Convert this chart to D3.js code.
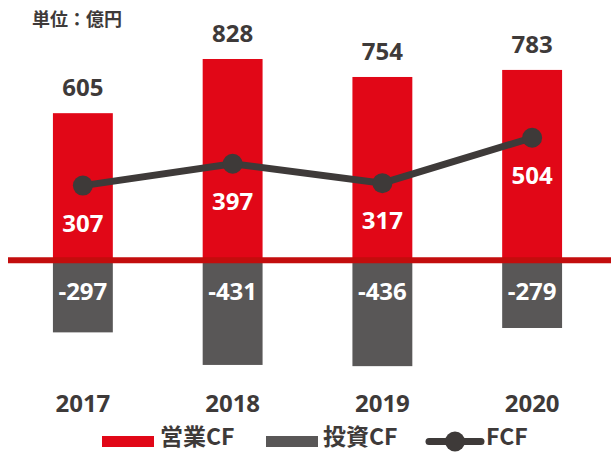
<!DOCTYPE html>
<html>
<head>
<meta charset="utf-8">
<script src="https://cdn.jsdelivr.net/npm/d3@7"></script>
<style>
  body { margin: 0; background: #fff; }
  svg text { font-family: "Open Sans", "Noto Sans", sans-serif; font-weight: 700; }
</style>
</head>
<body>
<div id="viz"></div>
<script>
var years = ['2017', '2018', '2019', '2020'],
    operatingCF = [605, 828, 754, 783],
    investingCF = [-297, -431, -436, -279],
    freeCF = [307, 397, 317, 504],
    legendLabels = ['営業CF', '投資CF', 'FCF'];

var width = 611,
    height = 452,
    red = '#e10717',
    gray = '#595757',
    dark = '#3e3a39';

var svg = d3.select('#viz').append('svg')
    .attr('width', width)
    .attr('height', height);

var xScale = d3.scaleBand()
    .domain(years)
    .range([8, 607])
    .paddingInner(0.6)
    .paddingOuter(0.3);

var yScale = d3.scaleLinear()
    .domain([-500, 900])
    .range([381.7, 41.5]);

var bw = xScale.bandwidth();
function cx(d) { return xScale(d) + bw / 2; }

// unit label
svg.append('text')
    .attr('x', 32)
    .attr('y', 26)
    .style('font-family', '"Noto Sans CJK JP", sans-serif')
    .style('font-size', '18px')
    .attr('fill', dark)
    .text('単位：億円');

// operating CF bars
svg.append('g').selectAll('rect').data(operatingCF)
    .enter().append('rect')
        .attr('x', function(d, i) { return xScale(years[i]); })
        .attr('y', function(d) { return yScale(d); })
        .attr('width', bw)
        .attr('height', function(d) { return yScale(0) - yScale(d); })
        .attr('fill', red);

// investing CF bars
svg.append('g').selectAll('rect').data(investingCF)
    .enter().append('rect')
        .attr('x', function(d, i) { return xScale(years[i]); })
        .attr('y', yScale(0))
        .attr('width', bw)
        .attr('height', function(d) { return yScale(d) - yScale(0); })
        .attr('fill', gray);

// zero line
svg.append('line')
    .attr('x1', 8)
    .attr('x2', width)
    .attr('y1', yScale(0))
    .attr('y2', yScale(0))
    .attr('stroke', '#c30d0d')
    .attr('stroke-width', 6);

// FCF line
var line = d3.line()
    .x(function(d, i) { return cx(years[i]); })
    .y(function(d) { return yScale(d); });

svg.append('path')
    .datum(freeCF)
    .attr('d', line)
    .attr('fill', 'none')
    .attr('stroke', dark)
    .attr('stroke-width', 7);

svg.append('g').selectAll('circle').data(freeCF)
    .enter().append('circle')
        .attr('cx', function(d, i) { return cx(years[i]); })
        .attr('cy', function(d) { return yScale(d); })
        .attr('r', 10)
        .attr('fill', dark);

// labels
svg.append('g').selectAll('text').data(operatingCF)
    .enter().append('text')
        .attr('x', function(d, i) { return cx(years[i]); })
        .attr('y', function(d) { return yScale(d) - 17; })
        .attr('text-anchor', 'middle')
        .style('font-size', '24px')
        .attr('fill', dark)
        .text(function(d) { return d; });

svg.append('g').selectAll('text').data(freeCF)
    .enter().append('text')
        .attr('x', function(d, i) { return cx(years[i]); })
        .attr('y', function(d) { return yScale(d) + 46; })
        .attr('text-anchor', 'middle')
        .style('font-size', '24px')
        .attr('fill', '#fff')
        .text(function(d) { return d; });

svg.append('g').selectAll('text').data(investingCF)
    .enter().append('text')
        .attr('x', function(d, i) { return cx(years[i]); })
        .attr('y', yScale(0) + 40)
        .attr('text-anchor', 'middle')
        .style('font-size', '24px')
        .attr('fill', '#fff')
        .text(function(d) { return d; });

// year axis
var xAxis = d3.axisBottom(xScale).tickSize(0).tickPadding(0);
var xGuide = svg.append('g')
    .attr('transform', 'translate(0,395)')
    .call(xAxis);
xGuide.select('.domain').remove();
xGuide.selectAll('text')
    .attr('dy', null)
    .attr('y', 17)
    .style('font-family', '"Open Sans", sans-serif')
    .style('font-size', '24px')
    .style('font-weight', 700)
    .attr('fill', dark);

// legend
var legend = svg.append('g');
legend.append('rect').attr('x', 102).attr('y', 436).attr('width', 52).attr('height', 11).attr('fill', red);
legend.append('rect').attr('x', 266).attr('y', 436).attr('width', 52).attr('height', 11).attr('fill', gray);
legend.append('line').attr('x1', 429).attr('x2', 481).attr('y1', 441.5).attr('y2', 441.5)
    .attr('stroke', dark).attr('stroke-width', 7).attr('stroke-linecap', 'round');
legend.append('circle').attr('cx', 455).attr('cy', 441.5).attr('r', 10).attr('fill', dark);

var legendX = [160, 323, 486];
legend.selectAll('text.lg').data(legendLabels)
    .enter().append('text')
        .attr('class', 'lg')
        .attr('x', function(d, i) { return legendX[i]; })
        .attr('y', 445)
        .style('font-family', '"Noto Sans CJK JP", sans-serif')
        .style('font-size', '23px')
        .attr('fill', dark)
        .text(function(d) { return d; });
</script>
</body>
</html>
